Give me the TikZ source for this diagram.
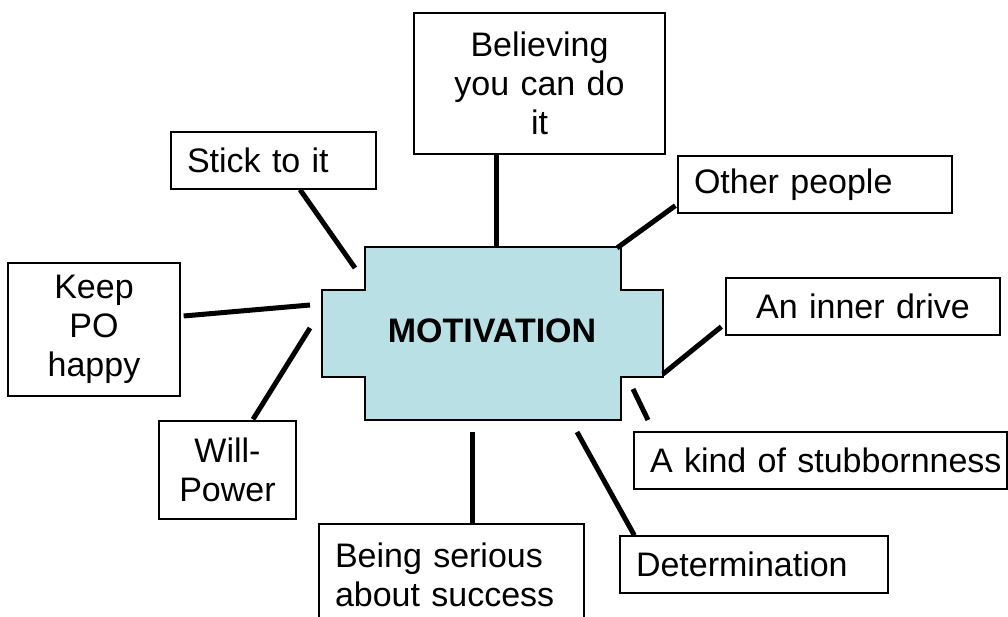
\documentclass[tikz,border=0pt]{standalone}
\usepackage{fontspec}
\setmainfont{Liberation Sans}
\usetikzlibrary{calc}
\definecolor{motfill}{RGB}{185,224,228}
\tikzset{
  box/.style={draw=black, line width=1.3pt, rectangle, inner xsep=16pt, inner ysep=0pt,
    font=\fontsize{34}{39}\selectfont},
  conn/.style={draw=black, line width=5pt},
  core/.style={draw=black, line width=1.5pt, fill=motfill}
}
\begin{document}
\begin{tikzpicture}[x=1pt,y=-1pt]
\clip (0,0) rectangle (1008,617);
\fill[white] (0,0) rectangle (1008,617);
% central shape
\draw[core] (365,247) coordinate (ctop) -- (621,247) coordinate (ctr) -- (621,290) -- (663,290) -- (663,377) -- (621,377) -- (621,420) -- (365,420) -- (365,377) -- (322,377) -- (322,290) -- (365,290) -- cycle;
\node[font=\fontsize{34}{39}\selectfont\bfseries] (mot) at (492,331) {MOTIVATION};
% boxes
\node[box, text width=173pt, align=left, minimum height=57pt] (stick) at (273.5,160.5) {Stick to it};
\node[box, text width=219pt, align=center, minimum height=141pt] (believe) at (539.5,83.5) {Believing\\you can do\\it};
\node[box, text width=242pt, align=left, minimum height=57pt] (other) at (815,184.5) {Other people};
\node[box, text width=242pt, align=center, minimum height=57pt] (inner) at (863,306.5) {An inner drive};
\node[box, inner xsep=0pt, text width=373pt, align=left, minimum height=57pt] (stub) at (820.5,460.5) {\hspace*{16pt}A kind of stubbornness};
\node[box, text width=236pt, align=left, minimum height=57pt] (det) at (754,564.5) {Determination};
\node[box, text width=233pt, align=left, minimum height=102pt] (serious) at (451.5,575) {Being serious\\about success};
\node[box, text width=140pt, align=center, minimum height=133pt] (keep) at (94,329.5) {Keep\\PO\\happy};
\node[box, text width=105pt, align=center, minimum height=98pt] (will) at (227.5,470) {Will-\\Power};
% free ends near the central shape
\coordinate (eStick) at (355,268);
\coordinate (eBelieve) at (496,247);
\coordinate (eOther) at (617,248);
\coordinate (eKeep) at (310,305);
\coordinate (eWill) at (310,328);
\coordinate (eInner) at (663,374);
\coordinate (eStubA) at (633,389);
\coordinate (eStubB) at (648,420);
\coordinate (eDet) at (577,432);
\coordinate (eSerious) at (472,432);
% connectors
\draw[conn] ($(stick.south)+(26.5,0)$) -- (eStick);
\draw[conn] ($(believe.south)+(-43.5,0)$) -- (eBelieve);
\draw[conn] ($(other.south west)+(-2,-8)$) -- (eOther);
\draw[conn] ($(keep.east)+(3,-13.5)$) -- (eKeep);
\draw[conn] ($(will.north)+(25.5,-1)$) -- (eWill);
\draw[conn] ($(inner.south west)+(-4,-9)$) -- (eInner);
\draw[conn] (eStubA) -- (eStubB);
\draw[conn] ($(det.north west)+(15,0)$) -- (eDet);
\draw[conn] ($(serious.north)+(20.5,0)$) -- (eSerious);
\end{tikzpicture}
\end{document}
